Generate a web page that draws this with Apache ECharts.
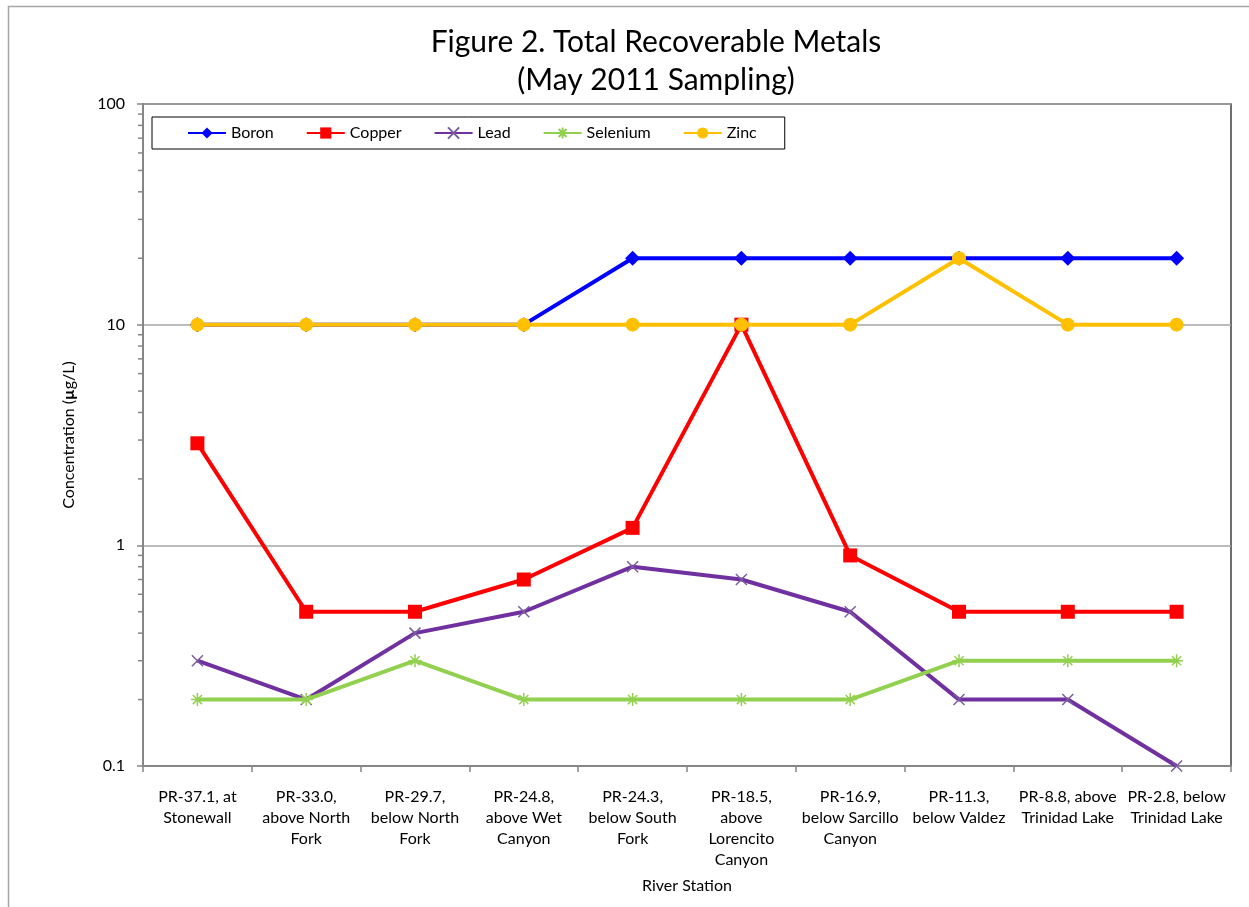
<!DOCTYPE html>
<html>
<head>
<meta charset="utf-8">
<script src="https://cdn.jsdelivr.net/npm/echarts@6/dist/echarts.min.js"></script>
<style>
html,body{margin:0;padding:0;background:#fff;}
#chart{width:1249px;height:907px;}
</style>
</head>
<body>
<div id="chart"></div>
<script>
const categories = [
  "PR-37.1, at\nStonewall",
  "PR-33.0,\nabove North\nFork",
  "PR-29.7,\nbelow North\nFork",
  "PR-24.8,\nabove Wet\nCanyon",
  "PR-24.3,\nbelow South\nFork",
  "PR-18.5,\nabove\nLorencito\nCanyon",
  "PR-16.9,\nbelow Sarcillo\nCanyon",
  "PR-11.3,\nbelow Valdez",
  "PR-8.8, above\nTrinidad Lake",
  "PR-2.8, below\nTrinidad Lake"
];
const boron    = [10, 10, 10, 10, 20, 20, 20, 20, 20, 20];
const copper   = [2.9, 0.5, 0.5, 0.7, 1.2, 10, 0.9, 0.5, 0.5, 0.5];
const lead     = [0.3, 0.2, 0.4, 0.5, 0.8, 0.7, 0.5, 0.2, 0.2, 0.1];
const selenium = [0.2, 0.2, 0.3, 0.2, 0.2, 0.2, 0.2, 0.3, 0.3, 0.3];
const zinc     = [10, 10, 10, 10, 10, 10, 10, 20, 10, 10];
const seriesNames = ["Boron", "Copper", "Lead", "Selenium", "Zinc"];
const minorTickValues = [0.2,0.3,0.4,0.5,0.6,0.7,0.8,0.9,2,3,4,5,6,7,8,9,20,30,40,50,60,70,80,90];

const FONT = 'Lato';
const chart = echarts.init(document.getElementById('chart'));

const xPath = 'path://M0,0L10,10M10,0L0,10';
const starPath = 'path://M0,5L10,5M5,0L5,10M1.5,1.5L8.5,8.5M8.5,1.5L1.5,8.5';

function lineSeries(name, data, color, symbol, size, itemStyle, z) {
  return {
    name: name, type: 'line', data: data,
    symbol: symbol, symbolSize: size,
    lineStyle: {color: color, width: 4},
    itemStyle: Object.assign({color: color}, itemStyle || {}),
    z: z, emphasis: {disabled: true}, animation: false
  };
}

chart.setOption({
  animation: false,
  backgroundColor: '#fff',
  textStyle: {fontFamily: FONT},
  title: {
    text: 'Figure 2. Total Recoverable Metals\n(May 2011 Sampling)',
    left: 651, top: 18, textAlign: 'center',
    textStyle: {fontFamily: FONT, fontSize: 30, fontWeight: 'normal', color: '#000', lineHeight: 38}
  },
  graphic: [{
    type: 'rect', silent: true, z: -10,
    shape: {x: 8.5, y: 6.5, width: 1400, height: 1100},
    style: {fill: 'none', stroke: '#a6a6a6', lineWidth: 1.5}
  }],
  legend: {
    left: 152, top: 117,
    data: seriesNames,
    orient: 'horizontal',
    borderColor: '#000', borderWidth: 1,
    padding: [8, 28, 8, 35],
    itemGap: 32, itemWidth: 38, itemHeight: 14,
    textStyle: {fontFamily: FONT, fontSize: 16, color: '#000'}
  },
  grid: {
    left: 143, right: 18, top: 104, bottom: 141,
    show: true, borderColor: '#404040', borderWidth: 1.5,
    containLabel: false
  },
  xAxis: {
    type: 'category', data: categories, boundaryGap: true,
    name: 'River Station', nameLocation: 'middle', nameGap: 112,
    nameTextStyle: {fontFamily: FONT, fontSize: 16, color: '#000'},
    axisLine: {lineStyle: {color: '#868686', width: 2}},
    axisTick: {show: true, alignWithLabel: false, length: 6, lineStyle: {color: '#868686', width: 1.5}},
    axisLabel: {interval: 0, margin: 20, fontFamily: FONT, fontSize: 16, color: '#000', lineHeight: 21},
    splitLine: {show: false}
  },
  yAxis: {
    type: 'log', min: 0.1, max: 100, logBase: 10,
    name: '{a|Concentration (}{b|µ}{a|g/L)}', nameLocation: 'middle', nameGap: 66,
    nameTextStyle: {
      rich: {
        a: {fontFamily: FONT, fontSize: 16, color: '#000'},
        b: {fontFamily: FONT, fontSize: 16, color: '#000', fontWeight: 'bold'}
      }
    },
    axisLine: {show: true, lineStyle: {color: '#868686', width: 2}},
    axisTick: {show: true, length: 6, lineStyle: {color: '#868686', width: 1.5}},
    axisLabel: {margin: 18, fontFamily: FONT, fontSize: 16, color: '#000'},
    splitLine: {show: true, lineStyle: {color: '#a6a6a6', width: 1.5}}
  },
  series: [
    {
      type: 'custom', silent: true, z: 1,
      data: minorTickValues.map(v => [0, v]),
      renderItem: function (params, api) {
        const pt = api.coord([0, api.value(1)]);
        const x0 = params.coordSys.x;
        return {
          type: 'line',
          shape: {x1: x0 - 5, y1: pt[1], x2: x0, y2: pt[1]},
          style: {stroke: '#868686', lineWidth: 1.5}
        };
      },
      animation: false
    },
    lineSeries('Boron', boron, '#0000FF', 'diamond', 15, null, 3),
    lineSeries('Copper', copper, '#FF0000', 'rect', 14, null, 4),
    lineSeries('Lead', lead, '#7030A0', xPath, 11, {borderColor: '#7a5ca0', borderWidth: 1.5, color: '#7a5ca0'}, 5),
    lineSeries('Selenium', selenium, '#92D050', starPath, 13, {borderColor: '#92D050', borderWidth: 1.5}, 6),
    lineSeries('Zinc', zinc, '#FFC000', 'circle', 14, null, 7)
  ]
});
</script>
</body>
</html>
